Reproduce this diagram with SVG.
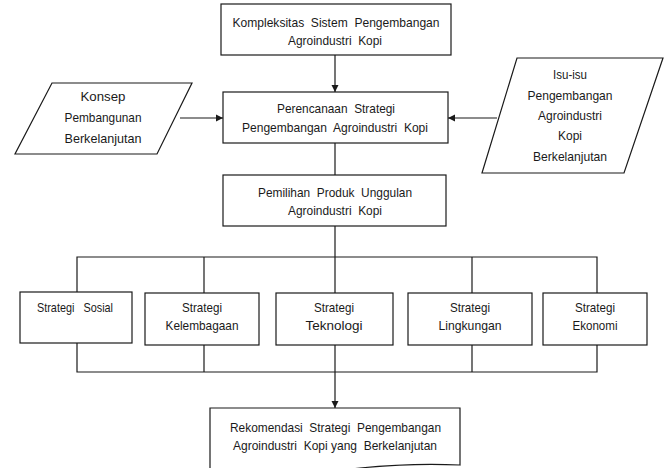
<svg xmlns="http://www.w3.org/2000/svg" width="664" height="468" viewBox="0 0 664 468">
<style>
.b{fill:#fff;stroke:#1a1a1a;stroke-width:1.2}
.c{fill:none;stroke:#1a1a1a;stroke-width:1.2}
text{font-family:"Liberation Sans",Arial,sans-serif;font-size:13.5px;fill:#1a1a1a;text-anchor:middle;white-space:pre}
</style>
<defs>
<marker id="ah" markerWidth="8" markerHeight="8" refX="7" refY="4" orient="auto" markerUnits="userSpaceOnUse">
<path d="M0,0.5 L7,4 L0,7.5 Z" fill="#1a1a1a"/>
</marker>
</defs>
<rect width="664" height="468" fill="#fff"/>
<g id="connectors">
<line class="c" x1="335" y1="55" x2="335" y2="92" marker-end="url(#ah)"/>
<line class="c" x1="180" y1="118" x2="223" y2="118" marker-end="url(#ah)"/>
<line class="c" x1="497" y1="118" x2="448" y2="118" marker-end="url(#ah)"/>
<line class="c" x1="335" y1="143" x2="335" y2="175"/>
<line class="c" x1="335" y1="226" x2="335" y2="293"/>
<polyline class="c" points="77,293 77,257 597,257 597,293"/>
<line class="c" x1="204" y1="257" x2="204" y2="293"/>
<line class="c" x1="472" y1="257" x2="472" y2="293"/>
<polyline class="c" points="77,343 77,372 597,372 597,345"/>
<line class="c" x1="204" y1="345" x2="204" y2="372"/>
<line class="c" x1="472" y1="345" x2="472" y2="372"/>
<line class="c" x1="335" y1="345" x2="335" y2="408" marker-end="url(#ah)"/>
</g>
<g id="kompleksitas">
<rect class="b" x="221" y="4" width="230" height="51"/>
<text x="336" y="27" textLength="207" lengthAdjust="spacingAndGlyphs">Kompleksitas  Sistem  Pengembangan</text>
<text x="335" y="45" textLength="94" lengthAdjust="spacingAndGlyphs">Agroindustri  Kopi</text>
</g>
<g id="konsep">
<polygon class="b" points="52,83 192,83 157,154 15,154"/>
<text x="103" y="101" textLength="45" lengthAdjust="spacingAndGlyphs">Konsep</text>
<text x="103" y="122" textLength="77" lengthAdjust="spacingAndGlyphs">Pembangunan</text>
<text x="103" y="143" textLength="77" lengthAdjust="spacingAndGlyphs">Berkelanjutan</text>
</g>
<g id="isu">
<polygon class="b" points="517,58 663,58 624,173 482,173"/>
<text x="570" y="79" textLength="34" lengthAdjust="spacingAndGlyphs">Isu-isu</text>
<text x="570" y="100" textLength="85" lengthAdjust="spacingAndGlyphs">Pengembangan</text>
<text x="570" y="120" textLength="64" lengthAdjust="spacingAndGlyphs">Agroindustri</text>
<text x="570" y="140" textLength="24" lengthAdjust="spacingAndGlyphs">Kopi</text>
<text x="570" y="161" textLength="74" lengthAdjust="spacingAndGlyphs">Berkelanjutan</text>
</g>
<g id="perencanaan">
<rect class="b" x="223" y="92" width="225" height="51"/>
<text x="336" y="113" textLength="118" lengthAdjust="spacingAndGlyphs">Perencanaan  Strategi</text>
<text x="335" y="132" textLength="186" lengthAdjust="spacingAndGlyphs">Pengembangan  Agroindustri  Kopi</text>
</g>
<g id="pemilihan">
<rect class="b" x="223" y="175" width="223" height="51"/>
<text x="335" y="197" textLength="154" lengthAdjust="spacingAndGlyphs">Pemilihan  Produk  Unggulan</text>
<text x="335" y="215" textLength="94" lengthAdjust="spacingAndGlyphs">Agroindustri  Kopi</text>
</g>
<g id="sosial">
<rect class="b" x="20" y="292" width="112" height="51"/>
<text x="75" y="312" textLength="76" lengthAdjust="spacingAndGlyphs">Strategi   Sosial</text>
</g>
<g id="kelembagaan">
<rect class="b" x="145" y="293" width="114" height="52"/>
<text x="202" y="312" textLength="40" lengthAdjust="spacingAndGlyphs">Strategi</text>
<text x="202" y="330" textLength="73" lengthAdjust="spacingAndGlyphs">Kelembagaan</text>
</g>
<g id="teknologi">
<rect class="b" x="276" y="293" width="117" height="52"/>
<text x="334" y="312" textLength="40" lengthAdjust="spacingAndGlyphs">Strategi</text>
<text x="334" y="330" textLength="57" lengthAdjust="spacingAndGlyphs">Teknologi</text>
</g>
<g id="lingkungan">
<rect class="b" x="408" y="293" width="124" height="52"/>
<text x="470" y="312" textLength="40" lengthAdjust="spacingAndGlyphs">Strategi</text>
<text x="470" y="330" textLength="63" lengthAdjust="spacingAndGlyphs">Lingkungan</text>
</g>
<g id="ekonomi">
<rect class="b" x="543" y="293" width="104" height="52"/>
<text x="595" y="312" textLength="40" lengthAdjust="spacingAndGlyphs">Strategi</text>
<text x="595" y="330" textLength="45" lengthAdjust="spacingAndGlyphs">Ekonomi</text>
</g>
<g id="rekomendasi">
<path class="b" d="M210,408 H460 V465 C420,463 390,465 360,468 C320,473 260,478 210,474 Z"/>
<text x="335.5" y="432" textLength="211" lengthAdjust="spacingAndGlyphs">Rekomendasi  Strategi  Pengembangan</text>
<text x="335" y="450" textLength="204" lengthAdjust="spacingAndGlyphs">Agroindustri  Kopi yang  Berkelanjutan</text>
</g>
</svg>
